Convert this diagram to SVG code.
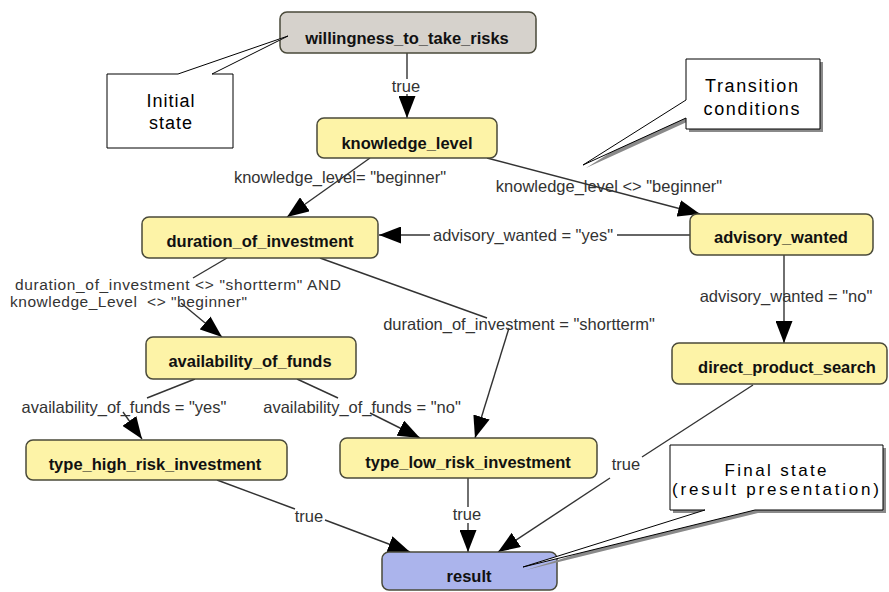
<svg xmlns="http://www.w3.org/2000/svg" width="889" height="592" viewBox="0 0 889 592">
  <style>
    .node rect { stroke: #4a4a3a; stroke-width: 1.5; }
    .yellow { fill: #fdf3a7; }
    .gray { fill: #d6d2cc; }
    .blue { fill: #abb4ec; }
    .nlabel { font-family: "Liberation Sans", Arial, sans-serif; font-size: 16.5px; font-weight: bold; fill: #111; text-anchor: middle; }
    .elabel { font-family: "Liberation Sans", Arial, sans-serif; font-size: 16.5px; fill: #333; }
    .tight { font-size: 15.5px; }
    .mid { text-anchor: middle; }
    .edge { stroke: #333; stroke-width: 1.4; fill: none; }
    .arrow { marker-end: url(#head); }
    .callout { fill: #fff; stroke: #000; stroke-width: 1; }
    .shadow { fill: #8a8a8a; }
    .ctext { font-family: "Liberation Sans", Arial, sans-serif; font-size: 18px; fill: #000; text-anchor: middle; letter-spacing: 1px; }
    .small { font-size: 17px; }
  </style>
  <defs>
    <marker id="head" markerUnits="userSpaceOnUse" markerWidth="22" markerHeight="17" refX="22" refY="8.5" orient="auto">
      <path d="M0,0 L22,8.5 L0,17 Z" fill="#000"/>
    </marker>
  </defs>

  <rect width="889" height="592" fill="#fff"/>

  <!-- transitions between states -->
  <g id="connectors">
    <path class="edge" d="M407,53 V79"/>
    <path class="edge arrow" d="M407,94 V118"/>
    <path class="edge arrow" d="M370,158 L287,217"/>
    <path class="edge arrow" d="M487,158 L700,214"/>
    <path class="edge" d="M690,235 H617"/>
    <path class="edge arrow" d="M430,235 H379"/>
    <path class="edge arrow" d="M784,255 V343"/>
    <path class="edge" d="M227,258 L193,278"/>
    <path class="edge arrow" d="M181,303 L222,337"/>
    <path class="edge" d="M320,258 L487,318"/>
    <path class="edge arrow" d="M509,328 L475,438"/>
    <path class="edge" d="M195,379 L147,398"/>
    <path class="edge arrow" d="M123,412 L142,439"/>
    <path class="edge" d="M297,379 L338,398"/>
    <path class="edge arrow" d="M370,413 L420,438"/>
    <path class="edge" d="M217,480 L295,509"/>
    <path class="edge arrow" d="M325,520 L410,552"/>
    <path class="edge" d="M468,478 V507"/>
    <path class="edge arrow" d="M468,523 V552"/>
    <path class="edge" d="M753,385 L642,457"/>
    <path class="edge arrow" d="M610,478 L498,552"/>

    <text class="elabel mid" x="406" y="92">true</text>
    <text class="elabel mid" x="340" y="183">knowledge_level= "beginner"</text>
    <text class="elabel mid" x="609" y="192">knowledge_level &lt;&gt; "beginner"</text>
    <text class="elabel mid" x="523" y="241">advisory_wanted = "yes"</text>
    <text class="elabel mid" x="786" y="302">advisory_wanted = "no"</text>
    <text class="elabel tight" x="15" y="290" textLength="326" lengthAdjust="spacing">duration_of_investment &lt;&gt; "shortterm" AND</text>
    <text class="elabel tight" x="10" y="307" xml:space="preserve" textLength="237" lengthAdjust="spacing">knowledge_Level  &lt;&gt; "beginner"</text>
    <text class="elabel mid" x="519" y="330">duration_of_investment = "shortterm"</text>
    <text class="elabel mid" x="124" y="413">availability_of_funds = "yes"</text>
    <text class="elabel mid" x="362" y="413">availability_of_funds = "no"</text>
    <text class="elabel mid" x="309" y="522">true</text>
    <text class="elabel mid" x="467" y="520">true</text>
    <text class="elabel mid" x="626" y="470">true</text>
  </g>

  <!-- states -->
  <g id="willingness_to_take_risks" class="node">
    <rect class="gray" x="280" y="12" width="256" height="41" rx="7"/>
    <text class="nlabel" x="407" y="44">willingness_to_take_risks</text>
  </g>
  <g id="knowledge_level" class="node">
    <rect class="yellow" x="317" y="118" width="180" height="40" rx="7"/>
    <text class="nlabel" x="407" y="149">knowledge_level</text>
  </g>
  <g id="duration_of_investment" class="node">
    <rect class="yellow" x="142" y="217" width="236" height="41" rx="7"/>
    <text class="nlabel" x="260" y="247">duration_of_investment</text>
  </g>
  <g id="advisory_wanted" class="node">
    <rect class="yellow" x="690" y="214" width="183" height="41" rx="7"/>
    <text class="nlabel" x="781" y="243">advisory_wanted</text>
  </g>
  <g id="availability_of_funds" class="node">
    <rect class="yellow" x="146" y="337" width="210" height="42" rx="7"/>
    <text class="nlabel" x="250" y="367">availability_of_funds</text>
  </g>
  <g id="direct_product_search" class="node">
    <rect class="yellow" x="672" y="343" width="215" height="41" rx="7"/>
    <text class="nlabel" x="787" y="373">direct_product_search</text>
  </g>
  <g id="type_high_risk_investment" class="node">
    <rect class="yellow" x="26" y="440" width="261" height="40" rx="7"/>
    <text class="nlabel" x="155" y="470">type_high_risk_investment</text>
  </g>
  <g id="type_low_risk_investment" class="node">
    <rect class="yellow" x="340" y="438" width="257" height="40" rx="7"/>
    <text class="nlabel" x="468" y="468">type_low_risk_investment</text>
  </g>
  <g id="result" class="node">
    <rect class="blue" x="382" y="552" width="175" height="38" rx="7"/>
    <text class="nlabel" x="469" y="582">result</text>
  </g>

  <!-- annotation callouts -->
  <g id="note_initial">
    <polygon class="callout" points="107,74 178,74 288,36 212,74 233,74 233,148 107,148"/>
    <text class="ctext" x="171" y="107">Initial</text>
    <text class="ctext" x="171" y="129">state</text>
  </g>
  <g id="note_transition">
    <polygon class="shadow" points="689,62 823,62 823,132 689,132 689,121 586,168 689,103"/>
    <polygon class="callout" points="686,59 820,59 820,129 686,129 686,118 583,165 686,100"/>
    <text class="ctext" x="752" y="92" textLength="94" lengthAdjust="spacing">Transition</text>
    <text class="ctext" x="752" y="115" textLength="97" lengthAdjust="spacing">conditions</text>
  </g>
  <g id="note_final">
    <polygon class="shadow" points="673,448 886,448 886,513 758,513 526,570 708,513 673,513"/>
    <polygon class="callout" points="670,445 883,445 883,510 755,510 523,567 705,510 670,510"/>
    <text class="ctext small" x="776" y="476" textLength="103" lengthAdjust="spacing">Final state</text>
    <text class="ctext small" x="776" y="495" textLength="208" lengthAdjust="spacing">(result presentation)</text>
  </g>
</svg>
